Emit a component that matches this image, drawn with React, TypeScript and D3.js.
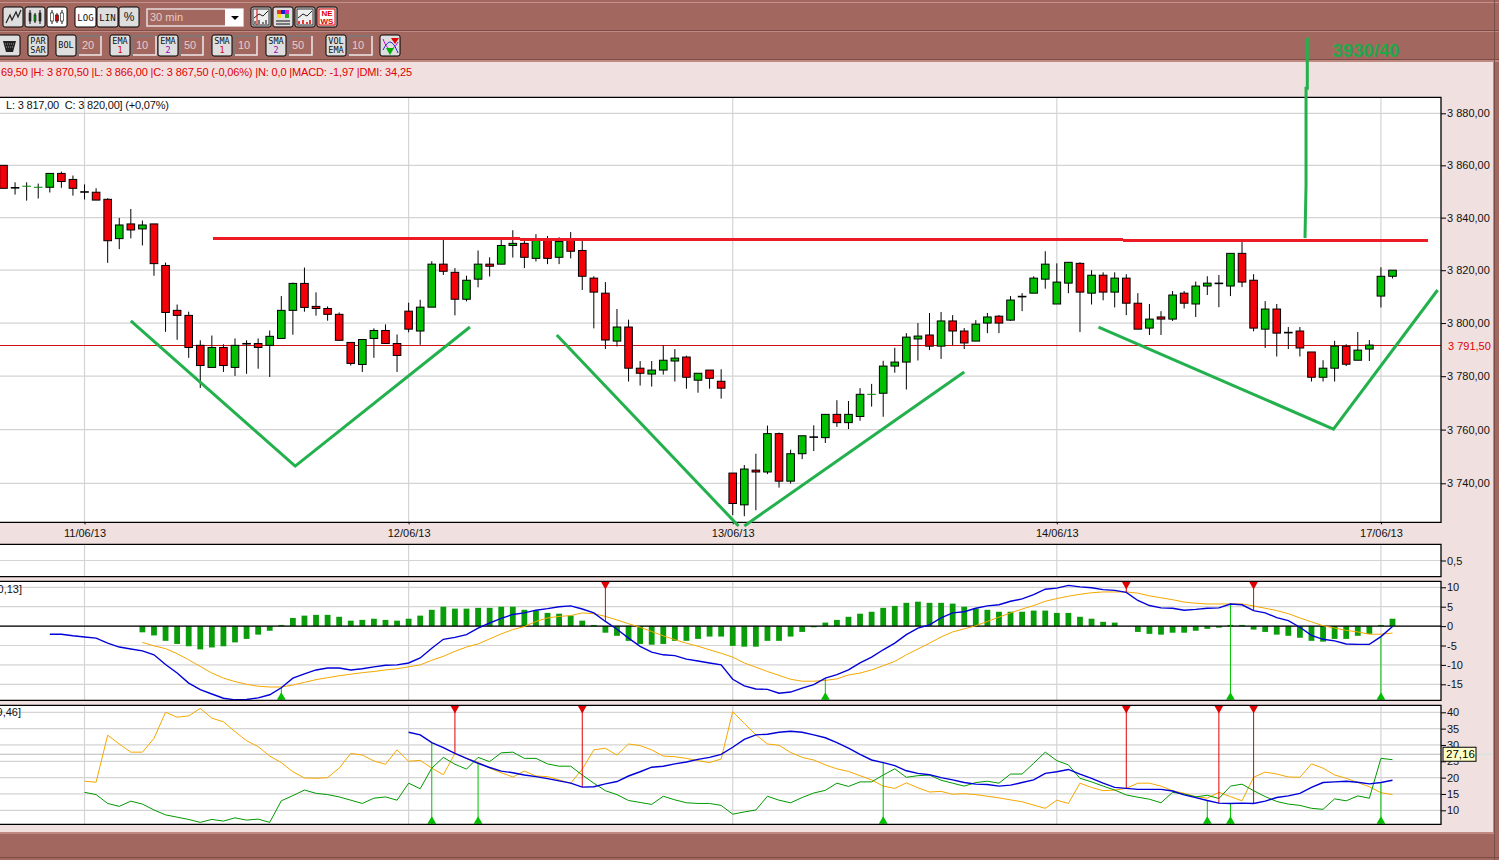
import React, { useEffect, useRef } from 'react';
import * as d3 from 'd3';

const WIDTH = 1499;
const HEIGHT = 860;

const BROWN = '#a26860';
const PINK = '#f0e0e0';
const GRID = '#d4d4d4';
const FONT = '"Liberation Sans", Arial, sans-serif';

// one value per 30 min bar, bar 0 is clipped by the left edge
const opens = [
  3860, 3851.4, 3851.9, 3851.5, 3851.6, 3856.9, 3854.6, 3849.8, 3849.7, 3847,
  3832, 3837.6, 3835.7, 3837.6, 3821.8, 3804.8, 3802.9, 3791.6, 3783.3, 3790.8,
  3783.3, 3792.2, 3792.3, 3791.6, 3794.2, 3804.8, 3815, 3806.3, 3805.5, 3803.3,
  3792.7, 3784.4, 3794.2, 3797.2, 3792.3, 3804.5, 3797, 3806, 3822.3, 3819.2,
  3809, 3816.6, 3822.3, 3822.3, 3829.4, 3830.2, 3824.5, 3832, 3824.9, 3832,
  3827.5, 3817, 3811.3, 3793.2, 3798.5, 3783, 3780.8, 3782.3, 3785.7, 3787.2,
  3778.5, 3782.3, 3778.1, 3743.8, 3732, 3744.9, 3744.2, 3758.5, 3740.8, 3751,
  3757.2, 3757, 3765.7, 3762.6, 3764.9, 3773.1, 3773.6, 3783.8, 3785.3, 3794,
  3795.5, 3791.3, 3800.8, 3797, 3793.2, 3800, 3802.6, 3801.1, 3810, 3811.3,
  3816.6, 3807.2, 3815.1, 3822.6, 3811.3, 3818.1, 3811.7, 3817, 3807.5, 3798.1,
  3802.3, 3801.5, 3811.3, 3807.2, 3814, 3815, 3814, 3826.4, 3816.2, 3797.7,
  3805.3, 3796.4, 3797, 3789.1, 3779.6, 3783, 3791.3, 3786, 3790.2, 3810.2, 3817.7
];
const highs = [
  3860, 3853.5, 3853.5, 3853, 3856.9, 3857.6, 3856.1, 3852.7, 3851.2, 3847.4,
  3839.9, 3843.3, 3838.9, 3837.6, 3822.9, 3807, 3804.3, 3793.5, 3795.3, 3792,
  3794.2, 3793.5, 3794.2, 3797.2, 3810.2, 3815.3, 3821, 3811.6, 3806.3, 3804,
  3792.7, 3793.8, 3798, 3799.5, 3795.7, 3807.7, 3808.8, 3823.4, 3832, 3820.8,
  3817.9, 3827.5, 3824.9, 3832, 3835.2, 3831.4, 3833.7, 3833, 3832.5, 3834.5,
  3831.4, 3817.7, 3815.5, 3805.3, 3801.3, 3785.7, 3785.7, 3791.7, 3790.2, 3787.7,
  3781.1, 3782.3, 3782.6, 3743.8, 3746.8, 3751, 3761.5, 3758.9, 3752.5, 3757.7,
  3761.6, 3765.7, 3771, 3770.7, 3775.5, 3777.1, 3785.8, 3790.7, 3796.2, 3800,
  3803.8, 3804.2, 3803, 3798.1, 3801.1, 3803.8, 3803, 3810.2, 3811.3, 3817.7,
  3827.2, 3822.6, 3823, 3823, 3820, 3819.2, 3819.2, 3818.5, 3811.3, 3807.2,
  3804.5, 3812.1, 3812.1, 3815.7, 3817.7, 3818.2, 3826.4, 3830.7, 3818.5, 3808.3,
  3807.2, 3798.5, 3798.5, 3789.1, 3786, 3793.3, 3792, 3796.6, 3793.6, 3821.1, 3820
];
const lows = [
  3851.2, 3848.8, 3846.5, 3847.3, 3849.6, 3851.4, 3848.4, 3846.9, 3846.7, 3822.8,
  3828, 3832.1, 3829.4, 3817.9, 3796.7, 3793.7, 3786.9, 3775.6, 3783.3, 3781.6,
  3780.1, 3780.9, 3782.8, 3779.7, 3794.2, 3795.6, 3804.3, 3802.8, 3800.9, 3793.5,
  3784, 3781.6, 3786.9, 3792.3, 3781.6, 3796.5, 3791.8, 3806, 3818.2, 3802.9,
  3808.2, 3813.5, 3817.6, 3822.3, 3824.8, 3820.8, 3823.3, 3822.3, 3822.3, 3824.5,
  3812.5, 3798, 3790.2, 3791.2, 3778, 3776.5, 3776.1, 3780.6, 3778, 3775.3,
  3773.8, 3775.3, 3771.6, 3728.2, 3727.8, 3730, 3743.4, 3738.4, 3739.9, 3749,
  3752, 3755, 3761, 3760.2, 3763.3, 3768.6, 3764.8, 3781.3, 3775, 3785.9,
  3789.8, 3786.5, 3791.7, 3790.2, 3793.2, 3796.2, 3796.2, 3800.8, 3804.5, 3811.3,
  3813, 3807.2, 3811.3, 3796.6, 3807, 3808.6, 3805.9, 3803, 3797.7, 3795.5,
  3795.5, 3800.8, 3805.5, 3802.3, 3810.6, 3806, 3810.2, 3813.6, 3796.9, 3790.6,
  3787.4, 3790.2, 3787.4, 3778, 3778, 3778, 3783.8, 3786, 3785.7, 3805.9, 3816.9
];
const closes = [
  3851.2, 3851.4, 3852, 3851.6, 3856.9, 3853.8, 3851.2, 3849.8, 3846.7, 3831.2,
  3837.2, 3835.3, 3837.2, 3822.5, 3804, 3802.9, 3790.8, 3784, 3790.8, 3784,
  3791.6, 3792.2, 3790.8, 3795, 3804.8, 3815, 3805.9, 3805.5, 3803.3, 3793.5,
  3784.8, 3793.8, 3797.2, 3792.3, 3787.8, 3797.7, 3806, 3822.3, 3819.6, 3809,
  3816.2, 3822.3, 3821.5, 3829.4, 3830.2, 3824.9, 3832, 3824.5, 3830.9, 3827.2,
  3817.7, 3811.7, 3793.6, 3798.5, 3783, 3781.1, 3782.3, 3786, 3786.8, 3779.6,
  3781.1, 3779.2, 3775.5, 3732.5, 3745.3, 3744.2, 3758.5, 3740.8, 3751, 3757.7,
  3757.2, 3765.7, 3762.6, 3765.7, 3773.2, 3773.2, 3783.8, 3785.3, 3794.7, 3795.1,
  3791.3, 3800.8, 3797, 3792.5, 3799.6, 3802.3, 3800, 3808.7, 3810, 3817,
  3822.3, 3815.5, 3823, 3811.7, 3818.1, 3811.7, 3817, 3807.5, 3797.7, 3801.5,
  3801.5, 3810.6, 3807.5, 3814, 3815.1, 3815, 3826.4, 3815.5, 3798.1, 3805.3,
  3796.2, 3796.4, 3790.6, 3779.6, 3783, 3791.3, 3784.5, 3789.8, 3791.7, 3817.7, 3820
];

const dayBars = [7, 35, 63, 91, 119];
const dayLabels = ['11/06/13', '12/06/13', '13/06/13', '14/06/13', '17/06/13'];
const priceTicks = [3880, 3860, 3840, 3820, 3800, 3780, 3760, 3740];
const lastPrice = 3791.5;

// MACD panel
const macdTicks = [10, 5, 0, -5, -10, -15];
const histStart = 12;
const macdHist = [
  -1.6, -2.4, -3.8, -4.6, -5.2, -6, -5.5, -5.2, -4.2, -3.3, -2.2, -1.2, 0.3, 2.1, 2.7, 2.9, 2.9,
  2.4, 1.4, 1.6, 1.9, 1.6, 1.4, 1.9, 2.7, 4.2, 5, 4.5, 4.5, 4.7, 4.7, 5, 5, 4.2, 4, 3.4, 3.2, 2.7,
  1.4, 0.3, -1.7, -2.5, -3.8, -4.6, -4.8, -4.6, -3.8, -3.8, -3.3, -2.7, -2.7, -5.1, -5.3, -5.3,
  -3.8, -3.8, -2.7, -1.5, -0.3, 0.9, 1.6, 2.4, 3.2, 3.7, 4.7, 5.2, 6, 6.3, 6, 6, 5.8, 5, 4.5, 4.2,
  3.7, 3.7, 3.7, 4, 4, 3.4, 3.4, 2.4, 1.9, 1.1, 0.9, 0, -1.5, -2, -2.2, -1.7, -1.7, -1.2, -0.7,
  -0.4, 0.3, 0.3, -0.9, -1.5, -2.2, -2.5, -3, -3.8, -4, -3.3, -3.3, -2.5, -2, 0.3, 1.9
];
const macdStart = 4;
const macdLine = [
  -2.1, -2.1, -2.5, -2.8, -3.1, -4.4, -5.4, -5.9, -6.4, -7.4, -9.9, -12.1, -14.7, -16.4, -17.5,
  -18.6, -19, -18.9, -18.5, -17.7, -15.9, -13.4, -12.3, -11.3, -10.8, -10.8, -11.3, -11, -10.5,
  -10.1, -10, -9.5, -8.2, -5.7, -3.4, -2.9, -2.2, -0.5, 0.8, 2, 3, 3.4, 4.1, 4.5, 5, 5.2, 4.4, 3.4,
  1.2, -0.8, -3.1, -5.2, -6.7, -7.4, -7.6, -8.5, -9, -9.5, -10, -13.7, -15.4, -16.2, -16.3, -17.3,
  -17, -16, -15.1, -13.4, -12.5, -11.3, -9.5, -8, -6.1, -4.4, -2.2, -0.5, 0.3, 2.1, 3.4, 3.7, 4.6,
  5.2, 5.5, 6.4, 7, 8.1, 9.5, 9.8, 10.5, 10.1, 9.9, 9.4, 9.2, 8.7, 6.6, 5.3, 4.7, 4.6, 4.1, 4.3,
  4.6, 4.7, 5.7, 5.5, 4, 3.4, 2.2, 1.4, -0.3, -2.4, -3.4, -3.8, -4.6, -4.7, -4.7, -2.7, -0.1
];
const signalStart = 12;
const signalLine = [
  -4.2, -5.1, -5.8, -7.1, -8.7, -10.4, -12.1, -13.4, -14.3, -15, -15.5, -15.7, -15.7, -15.2, -14.5,
  -13.8, -13.3, -12.8, -12.4, -12, -11.7, -11.3, -11, -10.5, -10, -8.8, -7.8, -6.5, -5.4, -4.6,
  -3.3, -2, -0.9, -0.1, 1.2, 2.1, 2.5, 2.7, 3.4, 3.2, 2.5, 1.6, 0.6, -0.3, -1.4, -2.5, -3.5, -4.4,
  -5.2, -6.1, -7, -8, -9.5, -10.6, -11.7, -12.7, -13.7, -14.2, -14.2, -14, -13.6, -12.6, -12.1,
  -11.3, -10.2, -9.1, -7.4, -5.9, -4.4, -2.8, -1.5, -0.7, 0.1, 1.2, 2.3, 3.4, 4.4, 5.3, 6.4, 7.1,
  7.7, 8.2, 8.6, 8.8, 8.8, 8.8, 8.5, 7.8, 7.3, 6.8, 6.2, 5.9, 5.7, 5.7, 5.7, 5.7, 5.2, 4.6, 4, 3.2,
  2.1, 1.1, 0.1, -0.5, -1.1, -1.5, -2.1, -2.1, -1.8
];
const macdBuys = [24, 71, 106, 119];
const macdSells = [52, 97, 108];

// DMI panel
const dmiTicks = [40, 35, 30, 25, 20, 15, 10];
const dmiLast = 27.16;
const plusStart = 7;
const dmiOrange = [
  18.9, 18.6, 33, 30.3, 27.8, 27.8, 32, 40, 38.5, 38.9, 41.2, 38.2, 37.1, 34.1, 31.3, 29.5, 26.6,
  24.6, 21.8, 19.9, 19.8, 20, 22.9, 27.4, 26.9, 25.1, 24.1, 28.5, 25, 25.3, 22.9, 20.9, 27.4, 25.9,
  24.7, 22.9, 21.5, 20.2, 22, 20.5, 20.3, 19.3, 18.3, 22.6, 28.5, 29, 26.9, 30.3, 29.8, 28.5, 26.6,
  26.4, 25.9, 25.2, 24.6, 25.7, 40.2, 36.6, 33.1, 30.3, 29.9, 27.7, 26.2, 25.4, 23.9, 22.7, 21.9,
  20.6, 19.3, 17.4, 16.7, 18.4, 16.9, 15.6, 15.8, 14.9, 15.1, 14.8, 14.3, 13.8, 13.2, 12.6, 11.6,
  10.6, 13.1, 12.1, 18.3, 17, 16, 16.2, 16.7, 18.3, 18.3, 17.4, 16, 15.2, 14.2, 13.7, 15.5, 14.2,
  12.9, 20.1, 21.7, 21.1, 20.2, 20.1, 24.2, 22.9, 20.8, 19.8, 18.5, 17.2, 15.4, 14.8
];
const dmiGreen = [
  15.5, 14.8, 12.1, 11.2, 12.8, 11.9, 10.1, 8.6, 7.9, 7.2, 6.3, 7.2, 6.7, 7.7, 7, 7.3, 6.3, 12.9,
  14.5, 16.2, 15.2, 14.8, 14.1, 13.1, 12.1, 13.7, 14.1, 13.1, 18.3, 16.6, 22.9, 26.2, 24.1, 22.6,
  26.2, 24.9, 27.6, 27.8, 25.9, 25.9, 24.2, 23.5, 23.5, 20.8, 18.3, 16, 14.8, 13, 12.4, 11.8, 14.3,
  13.2, 12.3, 12.1, 12.1, 11.5, 8.8, 9.5, 10.1, 14.3, 13.1, 12.3, 13.9, 15.3, 16.1, 18.3, 17.3,
  18.7, 18.7, 20.8, 22.7, 20.1, 20.6, 20.8, 19.2, 18.3, 17.4, 18.5, 18.9, 18.3, 21.1, 21.1, 24.4,
  27.8, 25.2, 23.9, 19.8, 18.7, 17.4, 16.2, 14.7, 14, 13.4, 12.3, 15.5, 15, 14.1, 14.6, 13.6, 17.4,
  18, 16, 14.2, 12.7, 11.9, 11.5, 10.6, 10.3, 13.5, 12.9, 14.4, 13.7, 25.9, 25.5
];
const adxStart = 35;
const dmiBlue = [
  33.9, 33.1, 30.7, 29.2, 27.4, 25.9, 24.4, 23.1, 22, 21.5, 20.8, 20.3, 19.7, 19, 18.3, 17.1, 17.2,
  18.1, 18.8, 20.5, 21.8, 23.2, 23.5, 24.2, 24.8, 25.6, 26.2, 27.1, 29.3, 31.7, 33.1, 33.3, 33.9,
  34.2, 33.9, 33.1, 32.2, 30.7, 29, 27.1, 25.4, 24.6, 23.7, 22.1, 21.3, 20.9, 20, 19.3, 18.5, 18,
  17.9, 17.4, 17.7, 18.5, 19.3, 21.3, 21.8, 22.5, 21.1, 19.8, 18.3, 17, 16.7, 16.4, 16.4, 16.4,
  15.9, 14.7, 13.9, 13, 12.2, 12.1, 12.2, 12.1, 12.8, 13.9, 14.4, 15.2, 17, 18.5, 18.7, 18.9, 18.6,
  18.1, 18.5, 19.2
];
const dmiBuys = [37, 41, 76, 104, 106, 119];
const dmiSells = [39, 50, 97, 105, 108];

// hand drawn marks on the chart, [bar, price]
const resistanceA = [[18.1, 3832], [44.6, 3832]];
const resistanceB = [[44.6, 3831.8], [96.7, 3831.8]];
const resistanceC = [[96.7, 3831.4], [123.1, 3831.4]];
const valleyOne = [[11, 3800.8], [25.2, 3746.4], [40.3, 3798.5]];
const valleyTwoA = [[47.8, 3795.5], [63.5, 3724.2]];
const valleyTwoB = [[64, 3724.2], [83, 3781.6]];
const valleyThree = [[94.6, 3798.5], [114.9, 3760.2], [123.9, 3812.5]];
const targetLine = [[112.44, 3832.2], [112.53, 3852.5], [112.53, 3889.7], [112.64, 3889.7], [112.64, 3909.2]];

const fmtPrice = d3
  .formatLocale({ decimal: ',', thousands: ' ', grouping: [3], currency: ['', ''] })
  .format(',.2f');

// toolbar layout
const topButtons = [
  { x: 3, icon: 'line' }, { x: 25, icon: 'bars' }, { x: 47, icon: 'candles', on: true },
  { x: 75, w: 21, text: 'LOG', on: true }, { x: 97, w: 21, text: 'LIN' }, { x: 119, w: 20, text: '%' },
  { x: 251, icon: 'a' }, { x: 273, icon: 'b' }, { x: 295, icon: 'c' }, { x: 317, icon: 'news' }
];
const lowButtons = [
  { x: 28, lines: ['PAR', 'SAR'] }, { x: 56, lines: ['BOL'] }, { x: 110, lines: ['EMA', '1'] },
  { x: 158, lines: ['EMA', '2'] }, { x: 212, lines: ['SMA', '1'] }, { x: 266, lines: ['SMA', '2'] },
  { x: 326, lines: ['VOL', 'EMA'] }
];
const lowFields = [
  { x: 79, w: 22, v: '20' }, { x: 133, w: 23, v: '10' }, { x: 181, w: 22, v: '50' },
  { x: 235, w: 22, v: '10' }, { x: 289, w: 23, v: '50' }, { x: 349, w: 23, v: '10' }
];

const ButtonIcon: React.FC<{ icon: string; x: number }> = ({ icon, x }) => {
  const y = 7;
  if (icon === 'line') {
    return <path d={`M${x + 3},${y + 16}L${x + 7},${y + 8}L${x + 9},${y + 13}L${x + 13},${y + 5}L${x + 15},${y + 10}L${x + 18},${y + 3}`} fill="none" stroke="#222" strokeWidth={1.2} />;
  }
  if (icon === 'bars' || icon === 'candles') {
    const wide = icon === 'candles' ? 3 : 2;
    return (
      <g>
        {[5, 10, 15].map((d, i) => (
          <g key={d}>
            <line x1={x + d} x2={x + d} y1={y + 3 + (i % 2) * 3} y2={y + 17 - (i % 2)} stroke="#111" />
            <rect
              x={x + d - wide / 2}
              y={y + 6 + (i % 2) * 2}
              width={wide}
              height={8 - (i % 2) * 2}
              fill={icon === 'bars' ? (i === 1 ? '#0a0' : '#333') : i === 1 ? '#d00' : '#fff'}
              stroke="#111"
              strokeWidth={0.6}
            />
          </g>
        ))}
      </g>
    );
  }
  if (icon === 'news') {
    return (
      <g fontFamily={FONT} fontSize={8} fontWeight="bold" fill="#e00000" textAnchor="middle">
        <rect x={x + 2} y={y + 2} width={16} height={16} fill="#fff" stroke="#e00000" />
        <text x={x + 10} y={y + 9}>NE</text>
        <text x={x + 10} y={y + 17}>WS</text>
      </g>
    );
  }
  if (icon === 'b') {
    return (
      <g>
        <rect x={x + 4} y={y + 3} width={4} height={4} fill="#e04020" />
        <rect x={x + 8} y={y + 3} width={4} height={4} fill="#1020d0" />
        <rect x={x + 12} y={y + 3} width={4} height={4} fill="#e020c0" />
        <rect x={x + 4} y={y + 7} width={4} height={4} fill="#f0e020" />
        <rect x={x + 12} y={y + 7} width={4} height={4} fill="#20b020" />
        <line x1={x + 3} x2={x + 17} y1={y + 14} y2={y + 14} stroke="#111" />
        <line x1={x + 3} x2={x + 17} y1={y + 17} y2={y + 17} stroke="#111" />
      </g>
    );
  }
  return (
    <g fill="none">
      <rect x={x + 2} y={y + 2} width={16} height={16} fill="#eee" stroke="#333" />
      <path d={`M${x + 3},${y + 11}L${x + 8},${y + 7}L${x + 12},${y + 9}L${x + 17},${y + 4}`} stroke="#222" />
      <path d={`M${x + 4},${y + 17}v-3M${x + 8},${y + 17}v-4M${x + 12},${y + 17}v-2M${x + 15},${y + 17}v-4`} stroke={icon === 'a' ? '#555' : '#d00'} strokeWidth={1.5} />
      {icon === 'a' && <line x1={x + 6} x2={x + 6} y1={y + 2} y2={y + 18} stroke="#d00" />}
    </g>
  );
};

const Toolbar: React.FC = () => {
  const bf = '"DejaVu Sans Mono", monospace';
  return (
    <g>
      <rect width={WIDTH} height={HEIGHT} fill={BROWN} />
      <rect x={0} y={2} width={WIDTH} height={1} fill="#c8908a" />
      <rect x={0} y={30} width={WIDTH} height={1} fill="#7c4c46" />
      <rect x={0} y={31} width={WIDTH} height={1} fill="#c08a82" />
      <rect x={0} y={59} width={WIDTH} height={1} fill="#7c4c46" />
      <rect x={0} y={60} width={WIDTH} height={2} fill="#c08a82" />
      <rect x={1494} y={0} width={1} height={HEIGHT} fill="#7c4c46" />
      <rect x={0} y={62} width={1493} height={770} fill={PINK} />
      <rect x={0} y={832} width={1494} height={2} fill="#c08a82" />
      <rect x={0} y={857} width={WIDTH} height={1} fill="#7c4c46" />
      <rect x={1493} y={62} width={1} height={771} fill="#c08a82" />

      {topButtons.map((b) => (
        <g key={b.x}>
          <rect x={b.x} y={7} width={b.w ?? 20} height={20} rx={2} fill={b.on ? '#fff' : '#dedede'} stroke="#000" />
          {b.icon && <ButtonIcon icon={b.icon} x={b.x} />}
          {b.text && (
            <text
              x={b.x + (b.w ?? 20) / 2}
              y={21}
              textAnchor="middle"
              fontFamily={b.text === '%' ? FONT : bf}
              fontSize={b.text === '%' ? 12 : 9}
              fill="#111"
            >
              {b.text}
            </text>
          )}
        </g>
      ))}

      <rect x={147} y={9} width={96} height={17} fill={BROWN} stroke="#e8dcdc" strokeWidth={1.5} />
      <rect x={225} y={9} width={18} height={17} fill="#fff" />
      <path d="M231,16h8l-4,4z" fill="#000" />
      <text x={150} y={21} fontFamily={FONT} fontSize={11} fill="#e8ccc4">30 min</text>

      <rect x={-4} y={35} width={24} height={21} rx={2} fill="#dedede" stroke="#000" />
      <path d="M3,41h13l-3,11h-7z" fill="#222" />
      <path d="M5,44h9M6,47h7" stroke="#999" strokeDasharray="1 1" />

      {lowButtons.map((b) => (
        <g key={b.x} fontFamily={bf} fontSize={8.5} textAnchor="middle" fill="#111">
          <rect x={b.x} y={35} width={20} height={21} rx={2} fill="#dedede" stroke="#000" />
          {b.lines.length === 1 ? (
            <text x={b.x + 10} y={48}>{b.lines[0]}</text>
          ) : (
            <>
              <text x={b.x + 10} y={44}>{b.lines[0]}</text>
              <text
                x={b.x + 10}
                y={53}
                fill={b.lines[1] === '1' ? '#e00000' : b.lines[1] === '2' ? '#a000c0' : '#111'}
              >
                {b.lines[1]}
              </text>
            </>
          )}
        </g>
      ))}

      {lowFields.map((f) => (
        <g key={f.x}>
          <path d={`M${f.x},56V36H${f.x + f.w}`} fill="none" stroke="#7a7a7a" strokeWidth={1.5} />
          <path d={`M${f.x + f.w},36V55H${f.x}`} fill="none" stroke="#f0e8e8" strokeWidth={1.5} />
          <text x={f.x + 3} y={49} fontFamily={FONT} fontSize={11} fill="#e8ccc4">{f.v}</text>
        </g>
      ))}

      <rect x={380} y={35} width={20} height={21} rx={2} fill="#dedede" stroke="#000" />
      <path d="M383,39C388,52 392,52 398,42" fill="none" stroke="#d000d0" />
      <path d="M383,50C388,40 392,38 398,53" fill="none" stroke="#2020d0" />
      <path d="M390,55l-4,-7h8z" fill="#00b000" />
      <path d="M391,38h8l-4,6z" fill="#e00000" />
    </g>
  );
};

const App: React.FC = () => {
  const chartRef = useRef<SVGGElement>(null);

  useEffect(() => {
    if (!chartRef.current) return;
    const root = d3.select(chartRef.current);
    root.selectAll('*').remove();

    const left = 0;
    const right = 1441;

    const x = d3.scaleLinear().domain([0, 120]).range([3.5, 1392.5]);
    // the LOG button is on, the price grid tightens upward
    const yPrice = d3.scaleLog().domain([3740, 3880]).range([483.3, 113.3]);
    const yNote = d3.scaleLinear().domain([0, 1]).range([576.7, 544.3]);
    const yMacd = d3.scaleLinear().domain([10, -15]).range([587.3, 684.3]);
    const yDmi = d3.scaleLinear().domain([40, 10]).range([712.3, 810.3]);

    const panels = [
      { top: 97.3, bottom: 522.3 },
      { top: 544.3, bottom: 576.7 },
      { top: 581.3, bottom: 700.3 },
      { top: 705.3, bottom: 824.3 }
    ];

    // panel backgrounds and day grid
    panels.forEach((p) => {
      root.append('rect')
        .attr('x', left - 2).attr('y', p.top)
        .attr('width', right - left + 2).attr('height', p.bottom - p.top)
        .attr('fill', '#fff');
      root.append('g')
        .selectAll('line')
        .data(dayBars)
        .join('line')
        .attr('x1', (d) => x(d)).attr('x2', (d) => x(d))
        .attr('y1', p.top).attr('y2', p.bottom)
        .attr('stroke', GRID).attr('stroke-width', 1.2);
    });

    const hGrid = (ticks: number[], y: (v: number) => number) => {
      root.append('g')
        .selectAll('line')
        .data(ticks)
        .join('line')
        .attr('x1', left).attr('x2', right)
        .attr('y1', (d) => y(d)).attr('y2', (d) => y(d))
        .attr('stroke', GRID).attr('stroke-width', 1.2);
    };
    hGrid(priceTicks, yPrice);
    hGrid([0.5], yNote);
    hGrid(macdTicks, yMacd);
    hGrid(dmiTicks, yDmi);

    // last price
    root.append('line')
      .attr('x1', left).attr('x2', right)
      .attr('y1', yPrice(lastPrice)).attr('y2', yPrice(lastPrice))
      .attr('stroke', '#d01010').attr('stroke-width', 1)
      .attr('shape-rendering', 'crispEdges');

    // candles
    const bars = d3.range(opens.length);
    const candle = root.append('g')
      .selectAll('g')
      .data(bars)
      .join('g');

    candle.append('line')
      .attr('x1', (i) => x(i)).attr('x2', (i) => x(i))
      .attr('y1', (i) => yPrice(highs[i])).attr('y2', (i) => yPrice(lows[i]))
      .attr('stroke', '#000').attr('stroke-width', 1);

    const isDoji = (i: number) => Math.abs(opens[i] - closes[i]) < 0.25;

    candle.filter((i) => !isDoji(i))
      .append('rect')
      .attr('x', (i) => x(i) - 3.8)
      .attr('width', 7.6)
      .attr('y', (i) => yPrice(Math.max(opens[i], closes[i])))
      .attr('height', (i) => Math.abs(yPrice(opens[i]) - yPrice(closes[i])))
      .attr('fill', (i) => (closes[i] > opens[i] ? '#00c000' : '#f40009'))
      .attr('stroke', '#000').attr('stroke-width', 1);

    candle.filter((i) => isDoji(i))
      .append('line')
      .attr('x1', (i) => x(i) - 4.3).attr('x2', (i) => x(i) + 4.3)
      .attr('y1', (i) => yPrice(closes[i])).attr('y2', (i) => yPrice(closes[i]))
      .attr('stroke', (i) => (opens[i] === closes[i] ? '#000' : '#008800'))
      .attr('stroke-width', (i) => (opens[i] === closes[i] ? 1.6 : 1));

    // MACD histogram
    root.append('g')
      .selectAll('rect')
      .data(macdHist)
      .join('rect')
      .attr('x', (_, i) => x(i + histStart) - 2.9)
      .attr('width', 5.8)
      .attr('y', (d) => Math.min(yMacd(d), yMacd(0)))
      .attr('height', (d) => Math.abs(yMacd(d) - yMacd(0)))
      .attr('fill', '#0a9c0a');

    root.append('line')
      .attr('x1', left).attr('x2', right)
      .attr('y1', yMacd(0)).attr('y2', yMacd(0))
      .attr('stroke', '#000').attr('stroke-width', 1.2);

    root.append('line')
      .attr('x1', left).attr('x2', right)
      .attr('y1', yDmi(dmiLast)).attr('y2', yDmi(dmiLast))
      .attr('stroke', '#b8b8b8').attr('stroke-width', 1.2);

    const series = (
      values: number[],
      start: number,
      y: d3.ScaleLinear<number, number>,
      color: string,
      width: number
    ) => {
      const line = d3.line<number>()
        .x((_, i) => x(i + start))
        .y((d) => y(d));
      root.append('path')
        .attr('d', line(values))
        .attr('fill', 'none')
        .attr('stroke', color)
        .attr('stroke-width', width);
    };

    const markers = (
      list: number[],
      values: number[],
      start: number,
      y: d3.ScaleLinear<number, number>,
      top: number,
      bottom: number,
      buy: boolean
    ) => {
      const color = buy ? '#00c000' : '#e00000';
      const edge = buy ? bottom : top;
      const arrow = d3.symbol().type(d3.symbolTriangle).size(34)();
      const g = root.append('g').selectAll('g').data(list).join('g');
      g.append('line')
        .attr('x1', (d) => x(d)).attr('x2', (d) => x(d))
        .attr('y1', edge).attr('y2', (d) => y(values[d - start]))
        .attr('stroke', color).attr('stroke-width', 1);
      g.append('path')
        .attr('d', arrow)
        .attr('fill', color)
        .attr('transform', (d) =>
          buy ? `translate(${x(d)},${edge - 3})` : `translate(${x(d)},${edge + 3}) rotate(180)`
        );
    };

    series(signalLine, signalStart, yMacd, '#f5a800', 1);
    markers(macdBuys, macdLine, macdStart, yMacd, 581.3, 700.3, true);
    markers(macdSells, macdLine, macdStart, yMacd, 581.3, 700.3, false);
    series(macdLine, macdStart, yMacd, '#0000d8', 1.4);

    series(dmiOrange, plusStart, yDmi, '#f5a800', 1);
    series(dmiGreen, plusStart, yDmi, '#009900', 1);
    markers(dmiBuys, dmiBlue, adxStart, yDmi, 705.3, 824.3, true);
    markers(dmiSells, dmiBlue, adxStart, yDmi, 705.3, 824.3, false);
    series(dmiBlue, adxStart, yDmi, '#0000d8', 1.4);

    // panel frames
    panels.forEach((p) => {
      root.append('path')
        .attr('d', `M${left - 2},${p.top}H${right}V${p.bottom}H${left - 2}`)
        .attr('fill', 'none')
        .attr('stroke', '#000').attr('stroke-width', 1.3);
    });

    // axes
    const styleAxis = (g: d3.Selection<SVGGElement, unknown, null, undefined>) => {
      g.select('.domain').remove();
      g.selectAll('line').attr('stroke', '#000');
      g.selectAll('text').attr('font-family', FONT).attr('font-size', 11).attr('fill', '#111');
    };

    root.append('g')
      .attr('transform', `translate(${right},0)`)
      .call(d3.axisRight(yPrice).tickValues(priceTicks).tickSize(5).tickPadding(1)
        .tickFormat((d) => fmtPrice(d as number)))
      .call(styleAxis);
    root.append('g')
      .attr('transform', `translate(${right},0)`)
      .call(d3.axisRight(yNote).tickValues([0.5]).tickSize(5).tickPadding(1)
        .tickFormat(() => '0,5'))
      .call(styleAxis);
    root.append('g')
      .attr('transform', `translate(${right},0)`)
      .call(d3.axisRight(yMacd).tickValues(macdTicks).tickSize(5).tickPadding(1)
        .tickFormat((d) => `${d}`))
      .call(styleAxis);
    root.append('g')
      .attr('transform', `translate(${right},0)`)
      .call(d3.axisRight(yDmi).tickValues(dmiTicks).tickSize(5).tickPadding(1)
        .tickFormat((d) => `${d}`))
      .call(styleAxis);
    root.append('g')
      .attr('transform', 'translate(0,522.3)')
      .call(d3.axisBottom(x).tickValues(dayBars).tickSize(2).tickPadding(5)
        .tickFormat((_, i) => dayLabels[i]))
      .call(styleAxis);

    // last price label
    root.append('text')
      .attr('x', 1448).attr('y', yPrice(lastPrice) + 4)
      .attr('font-family', FONT).attr('font-size', 11).attr('fill', '#e00000')
      .text(fmtPrice(lastPrice));

    // DMI value box
    root.append('line')
      .attr('x1', 1476).attr('x2', 1492)
      .attr('y1', yDmi(dmiLast)).attr('y2', yDmi(dmiLast))
      .attr('stroke', '#cfe4e0');
    root.append('rect')
      .attr('x', 1443).attr('y', yDmi(dmiLast) - 7)
      .attr('width', 33).attr('height', 14)
      .attr('fill', '#ffffc8').attr('stroke', '#000');
    root.append('text')
      .attr('x', 1446).attr('y', yDmi(dmiLast) + 4)
      .attr('font-family', FONT).attr('font-size', 11.5).attr('fill', '#000')
      .text('27,16');

    // header and panel captions
    const caption = (tx: number, ty: number, label: string, anchor: string, fill: string) =>
      root.append('text')
        .attr('x', tx).attr('y', ty)
        .attr('text-anchor', anchor)
        .attr('font-family', FONT).attr('font-size', 11).attr('fill', fill)
        .text(label);
    caption(1, 76, '69,50 |H: 3 870,50 |L: 3 866,00 |C: 3 867,50 (-0,06%) |N: 0,0 |MACD: -1,97 |DMI: 34,25', 'start', '#e00000')
      .attr('textLength', 411)
      .attr('lengthAdjust', 'spacing');
    caption(6, 109, 'L: 3 817,00\u00a0\u00a0C: 3 820,00] (+0,07%)', 'start', '#111')
      .attr('textLength', 163)
      .attr('lengthAdjust', 'spacing');
    caption(22, 593, '0,13]', 'end', '#111');
    caption(21, 716, '9,46]', 'end', '#111');

    // hand drawn lines
    const sketch = d3.line<number[]>()
      .x((d) => x(d[0]))
      .y((d) => yPrice(d[1]));
    [resistanceA, resistanceB, resistanceC].forEach((pts) => {
      root.append('path').attr('d', sketch(pts))
        .attr('fill', 'none').attr('stroke', '#ed1c24').attr('stroke-width', 3)
        .attr('shape-rendering', 'crispEdges');
    });
    [valleyOne, valleyTwoA, valleyTwoB, valleyThree, targetLine].forEach((pts) => {
      root.append('path').attr('d', sketch(pts))
        .attr('fill', 'none').attr('stroke', '#22b14c').attr('stroke-width', 3);
    });
    root.append('text')
      .attr('x', 1332.5).attr('y', 57)
      .attr('font-family', FONT).attr('font-size', 18.5).attr('font-weight', 'bold')
      .attr('fill', '#22a84a')
      .text('3930/40');
  }, []);

  return (
    <svg
      width={WIDTH}
      height={HEIGHT}
      style={{ position: 'fixed', left: 0, top: 0, display: 'block' }}
    >
      <Toolbar />
      <g ref={chartRef} />
    </svg>
  );
};

export default App;
